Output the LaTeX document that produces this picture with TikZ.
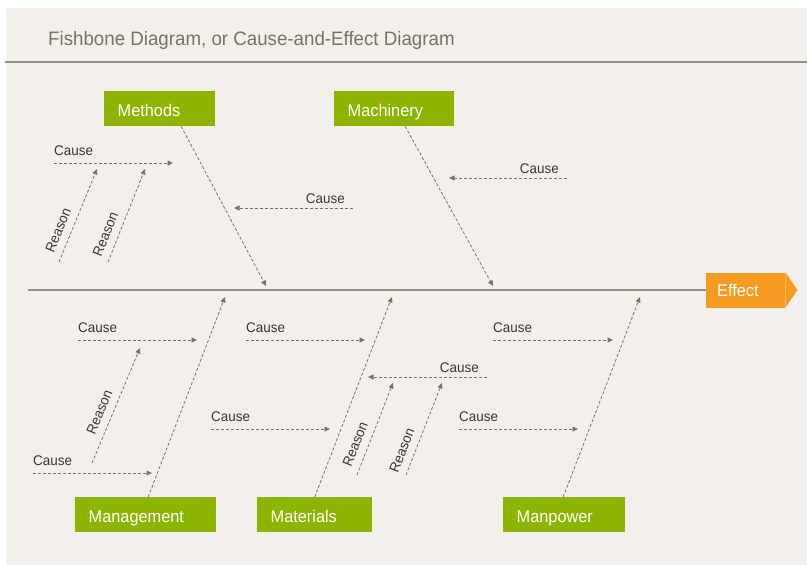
\documentclass[tikz,border=0pt]{standalone}
\usepackage{fontspec}
\setmainfont{Liberation Sans}[FakeStretch=0.96]
\usetikzlibrary{arrows.meta,positioning}
\definecolor{paper}{HTML}{F3F0EC}
\definecolor{spinecol}{HTML}{968C7C}
\definecolor{dashcol}{HTML}{7D7262}
\definecolor{bonegreen}{HTML}{8CB400}
\definecolor{effectorange}{HTML}{F59B1F}
\definecolor{titlegrey}{HTML}{7A7163}
\definecolor{ink}{HTML}{3A3631}
\tikzset{bonebox/.style={fill=bonegreen, text=white, anchor=north west, minimum height=35pt, inner xsep=13.5pt, inner ysep=0pt, text width=#1, align=left, text height=15pt, text depth=0pt, font=\fontsize{17}{20}\selectfont}}
\tikzset{causearrow/.style={draw=dashcol, line width=0.8pt, dash pattern=on 3pt off 2pt, -{Triangle[length=5.5pt,width=5pt]}}}
\tikzset{causetext/.style={text=ink, inner sep=0pt, font=\fontsize{14}{16}\selectfont}}
\tikzset{reasontext/.style={causetext, sloped, above=7.5pt}}

\begin{document}
\begin{tikzpicture}[x=1pt,y=-1pt]
\useasboundingbox (0,0) rectangle (807,565);
\fill[paper] (6,8) rectangle (807,565);

% title
\node[anchor=base west, inner sep=0pt, text=titlegrey, font=\fontsize{19.5}{22}\selectfont] (title) at (48,45) {Fishbone Diagram, or Cause-and-Effect Diagram};
\draw[spinecol, line width=1.6pt] (5,62) -- (807,62);

% effect and spine
\node[fill=effectorange, text=white, anchor=west, minimum height=35pt, inner xsep=11pt, inner ysep=0pt, text width=57pt, align=left, text height=13pt, text depth=0pt, font=\fontsize{17}{20}\selectfont] (effect) at (706,290) {Effect};
\fill[effectorange] (effect.north east) -- ([xshift=12pt]effect.east) -- (effect.south east) -- cycle;
\coordinate (tail) at (28,290);
\draw[spinecol, line width=1.6pt] (tail) -- (effect.west);

% categories
\node[bonebox=84pt] (methods) at (104,91) {Methods};
\node[bonebox=93pt] (machinery) at (334,91) {Machinery};
\node[bonebox=114pt] (management) at (75,497) {Management};
\node[bonebox=88pt] (materials) at (257,497) {Materials};
\node[bonebox=95pt] (manpower) at (503,497) {Manpower};

\coordinate (methodstip) at (266,286);
\coordinate (machinerytip) at (493,286);
\coordinate (managementtip) at (225,297);
\coordinate (materialstip) at (392,297);
\coordinate (manpowertip) at (640,297);
\draw[causearrow] ([xshift=21.5pt]methods.south) -- (methodstip);
\draw[causearrow] ([xshift=11pt]machinery.south) -- (machinerytip);
\draw[causearrow] ([xshift=2.5pt]management.north) -- (managementtip);
\draw[causearrow] (materials.north) -- (materialstip);
\draw[causearrow] ([xshift=-1pt]manpower.north) -- (manpowertip);

% upper causes
\coordinate (ca1) at (54,163); \coordinate (cb1) at (173,163);
\draw[causearrow] (ca1) -- (cb1);
\node[causetext, above right=7.5pt and 0pt of ca1] (cause1) {Cause};
\coordinate (ca2) at (353,208); \coordinate (cb2) at (234,208);
\draw[causearrow] (ca2) -- (cb2);
\node[causetext, above left=4.5pt and 8pt of ca2] (cause2) {Cause};
\coordinate (ca3) at (567,178); \coordinate (cb3) at (449,178);
\draw[causearrow] (ca3) -- (cb3);
\node[causetext, above left=4.5pt and 8pt of ca3] (cause3) {Cause};

\coordinate (ra1) at (59,262); \coordinate (rb1) at (97,169);
\draw[causearrow] (ra1) -- (rb1) node[reasontext, pos=0.29] (reason1) {Reason};
\coordinate (ra2) at (108,262); \coordinate (rb2) at (145,169);
\draw[causearrow] (ra2) -- (rb2) node[reasontext, pos=0.25] (reason2) {Reason};

% lower causes
\coordinate (ca4) at (78,340); \coordinate (cb4) at (197,340);
\draw[causearrow] (ca4) -- (cb4);
\node[causetext, above right=7.5pt and 0pt of ca4] (cause4) {Cause};
\coordinate (ca5) at (33,473); \coordinate (cb5) at (152,473);
\draw[causearrow] (ca5) -- (cb5);
\node[causetext, above right=7.5pt and 0pt of ca5] (cause5) {Cause};
\coordinate (ca6) at (246,340); \coordinate (cb6) at (365,340);
\draw[causearrow] (ca6) -- (cb6);
\node[causetext, above right=7.5pt and 0pt of ca6] (cause6) {Cause};
\coordinate (ca7) at (211,429); \coordinate (cb7) at (330,429);
\draw[causearrow] (ca7) -- (cb7);
\node[causetext, above right=7.5pt and 0pt of ca7] (cause7) {Cause};
\coordinate (ca8) at (487,377); \coordinate (cb8) at (368,377);
\draw[causearrow] (ca8) -- (cb8);
\node[causetext, above left=4.5pt and 8pt of ca8] (cause8) {Cause};
\coordinate (ca9) at (493,340); \coordinate (cb9) at (613,340);
\draw[causearrow] (ca9) -- (cb9);
\node[causetext, above right=7.5pt and 0pt of ca9] (cause9) {Cause};
\coordinate (ca10) at (459,429); \coordinate (cb10) at (578,429);
\draw[causearrow] (ca10) -- (cb10);
\node[causetext, above right=7.5pt and 0pt of ca10] (cause10) {Cause};

\coordinate (ra3) at (92,463); \coordinate (rb3) at (140,348);
\draw[causearrow] (ra3) -- (rb3) node[reasontext, pos=0.4] (reason3) {Reason};
\coordinate (ra4) at (357,475); \coordinate (rb4) at (393,383);
\draw[causearrow] (ra4) -- (rb4) node[reasontext, pos=0.28] (reason4) {Reason};
\coordinate (ra5) at (406,475); \coordinate (rb5) at (442,383);
\draw[causearrow] (ra5) -- (rb5) node[reasontext, pos=0.22] (reason5) {Reason};
\end{tikzpicture}
\end{document}
